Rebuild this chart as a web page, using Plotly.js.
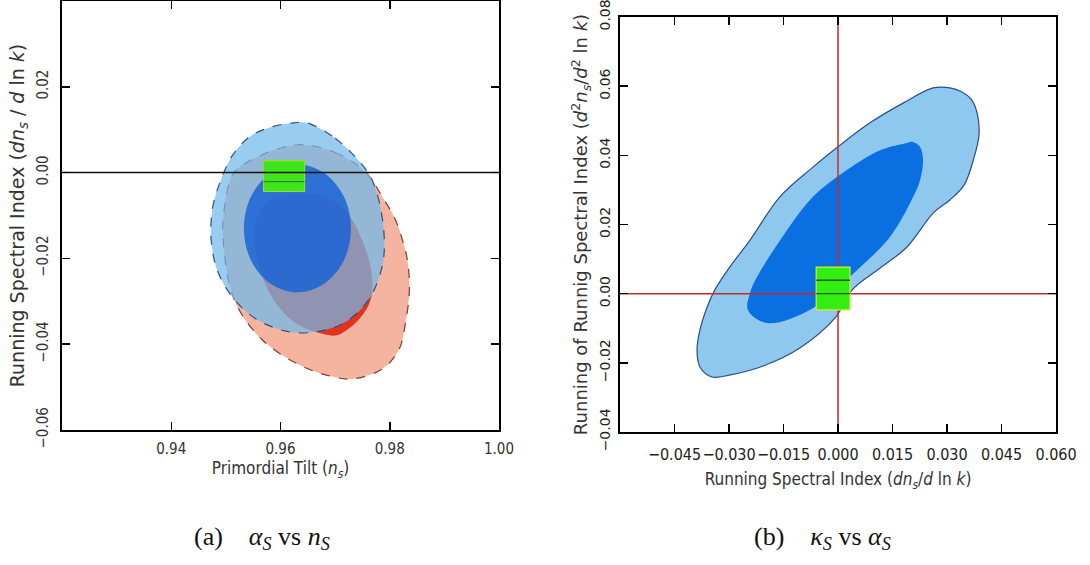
<!DOCTYPE html>
<html>
<head>
<meta charset="utf-8">
<script src="https://cdn.plot.ly/plotly-3.0.1.min.js"></script>
<style>html,body{margin:0;padding:0;background:#fff}#chart{width:1090px;height:565px}</style>
</head>
<body>
<div id="chart"></div>
<script>
// ---------- Panel (a): alpha_S vs n_S ----------
const leftRedOuterX = [0.9639,0.9700,0.9755,0.9786,0.9810,0.9823,0.9832,0.9836,0.9829,0.9817,0.9786,0.9731,0.9700,0.9639,0.9565,0.9515,0.9495,0.9497,0.9515,0.9559,0.9602];
const leftRedOuterY = [0.0065,0.0047,0.0002,-0.0056,-0.0109,-0.0156,-0.0202,-0.0272,-0.0349,-0.0412,-0.0458,-0.0481,-0.0477,-0.0451,-0.0388,-0.0295,-0.0156,-0.0086,0.0000,0.0037,0.0058];

const leftRedInnerX = [0.9583,0.9620,0.9657,0.9694,0.9725,0.9749,0.9764,0.9768,0.9762,0.9740,0.9703,0.9672,0.9630,0.9593,0.9565,0.9552,0.9561];
const leftRedInnerY = [-0.0063,-0.0049,-0.0049,-0.0063,-0.0098,-0.0156,-0.0214,-0.0272,-0.0307,-0.0347,-0.0379,-0.0374,-0.0353,-0.0307,-0.0237,-0.0156,-0.0091];

const leftBlueOuterX = [0.9648,0.9700,0.9740,0.9765,0.9781,0.9790,0.9786,0.9762,0.9718,0.9670,0.9620,0.9560,0.9515,0.9485,0.9473,0.9476,0.9490,0.9512,0.9545,0.9585,0.9618];
const leftBlueOuterY = [0.0116,0.0080,0.0032,-0.0010,-0.0070,-0.0156,-0.0219,-0.0295,-0.0349,-0.0370,-0.0372,-0.0345,-0.0295,-0.0230,-0.0156,-0.0080,-0.0020,0.0040,0.0085,0.0107,0.0115];

const leftBlueInnerX = [0.9631,0.9680,0.9716,0.9729,0.9716,0.9680,0.9631,0.9582,0.9546,0.9533,0.9546,0.9582];
const leftBlueInnerY = [0.0019,-0.0001,-0.0056,-0.0130,-0.0205,-0.0259,-0.0279,-0.0259,-0.0205,-0.0130,-0.0056,-0.0001];

const leftBoxX = [0.9569,0.9644];
const leftBoxY = [-0.0044,0.0028];
const leftBoxLinesY = [-0.0021];
const leftRefLineY = [0.0];

const leftXRange = [0.92,1.00];
const leftYRange = [-0.06,0.04];
const leftXTicks = [0.94,0.96,0.98,1.00];
const leftXTickText = ['0.94','0.96','0.98','1.00'];
const leftYTicks = [-0.06,-0.04,-0.02,0.00,0.02];
const leftYTickText = ['\u22120.06','\u22120.04','\u22120.02','0.00','0.02'];

// ---------- Panel (b): kappa_S vs alpha_S ----------
const rightOuterX = [0.0262,0.0308,0.0341,0.0366,0.0383,0.0388,0.0374,0.0347,0.0308,0.0262,0.0190,0.0116,0.0041,-0.0008,-0.0105,-0.0206,-0.0297,-0.0347,-0.0380,-0.0388,-0.0380,-0.0358,-0.0339,-0.0300,-0.0242,-0.0160,-0.0069,0.0006,0.0088,0.0179];
const rightOuterY = [0.0595,0.0595,0.0583,0.0563,0.0522,0.0459,0.0392,0.0314,0.0271,0.0233,0.0135,0.0074,0.0013,-0.0070,-0.0157,-0.0209,-0.0235,-0.0241,-0.0212,-0.0163,-0.0105,-0.0033,0.0011,0.0074,0.0155,0.0280,0.0366,0.0430,0.0494,0.0551];

const rightInnerX = [0.0204,0.0226,0.0234,0.0226,0.0207,0.0143,0.0052,-0.0069,-0.0195,-0.0248,-0.0242,-0.0223,-0.0140,-0.0069,0.0025,0.0116,0.0190];
const rightInnerY = [0.0439,0.0424,0.0386,0.0329,0.0280,0.0164,0.0068,-0.0042,-0.0085,-0.0047,0.0002,0.0048,0.0184,0.0280,0.0358,0.0415,0.0436];

const rightBoxX = [-0.0060,0.0033];
const rightBoxY = [-0.0047,0.0077];
const rightBoxLinesY = [0.0039,0.0000];
const rightRefX = [0.0];
const rightRefY = [0.0];

const rightXRange = [-0.06,0.06];
const rightYRange = [-0.04,0.08];
const rightXTicks = [-0.045,-0.030,-0.015,0.000,0.015,0.030,0.045,0.060];
const rightXTickText = ['\u22120.045','\u22120.030','\u22120.015','0.000','0.015','0.030','0.045','0.060'];
const rightYTicks = [-0.04,-0.02,0.00,0.02,0.04,0.06,0.08];
const rightYTickText = ['\u22120.04','\u22120.02','0.00','0.02','0.04','0.06','0.08'];

// ---------- helpers ----------
function closed(a){ return a.concat([a[0]]); }
function region(xs, ys, xa, ya, fill, lineColor, dash, width){
  return {type:'scatter', mode:'lines', x:closed(xs), y:closed(ys), xaxis:xa, yaxis:ya,
    fill:'toself', fillcolor:fill, hoverinfo:'skip',
    line:{color:lineColor, width:width, dash:dash, shape:'spline', smoothing:1}};
}
function box(bx, by, xa, ya, fill, edge){
  return {type:'scatter', mode:'lines', xaxis:xa, yaxis:ya, hoverinfo:'skip',
    x:[bx[0],bx[1],bx[1],bx[0],bx[0]], y:[by[0],by[0],by[1],by[1],by[0]],
    fill:'toself', fillcolor:fill, line:{color:edge, width:1.2}};
}
function hline(yv, xr, xa, ya, color, width){
  return {type:'scatter', mode:'lines', x:[xr[0],xr[1]], y:[yv,yv], xaxis:xa, yaxis:ya,
    hoverinfo:'skip', line:{color:color, width:width}};
}
function vline(xv, yr, xa, ya, color, width){
  return {type:'scatter', mode:'lines', x:[xv,xv], y:[yr[0],yr[1]], xaxis:xa, yaxis:ya,
    hoverinfo:'skip', line:{color:color, width:width}};
}

const traces = [
  region(leftRedOuterX, leftRedOuterY, 'x','y', '#f5b49f', '#8a3535', 'dash', 1.2),
  region(leftRedInnerX, leftRedInnerY, 'x','y', '#e2341c', 'rgba(0,0,0,0)', 'solid', 0),
  region(leftBlueOuterX, leftBlueOuterY, 'x','y', 'rgba(112,184,236,0.72)', '#34507a', 'dash', 1.2),
  region(leftBlueInnerX, leftBlueInnerY, 'x','y', 'rgba(22,98,214,0.82)', 'rgba(0,0,0,0)', 'solid', 0),
  box(leftBoxX, leftBoxY, 'x','y', '#3fe41a', '#9ad83a'),
  hline(leftBoxLinesY[0], leftBoxX, 'x','y', '#2a8a22', 1.2),
  hline(leftRefLineY[0], leftXRange, 'x','y', '#111111', 1.5),

  region(rightOuterX, rightOuterY, 'x2','y2', '#8ec8ef', '#2b4f80', 'solid', 1.2),
  region(rightInnerX, rightInnerY, 'x2','y2', '#0a6fe0', 'rgba(0,0,0,0)', 'solid', 0),
  vline(rightRefX[0], rightYRange, 'x2','y2', '#c8282c', 1.5),
  hline(rightRefY[0], rightXRange, 'x2','y2', '#c8282c', 1.5),
  box(rightBoxX, rightBoxY, 'x2','y2', '#33ee11', '#d8ea3c'),
  hline(rightBoxLinesY[0], rightBoxX, 'x2','y2', '#1d5a1d', 1.4),
  hline(rightBoxLinesY[1], rightBoxX, 'x2','y2', '#1d5a1d', 1.4)
];

const W = 1090, H = 565;
const axisCommon = {showgrid:false, zeroline:false, showline:true, linecolor:'#000', linewidth:2,
  mirror:'ticks', ticks:'inside', ticklen:8, tickwidth:1.5, tickcolor:'#000', tickmode:'array',
  fixedrange:true, ticklabeloverflow:'allow'};
const leftFont = {family:'DejaVu Sans Condensed, DejaVu Sans, sans-serif', size:15, color:'#333'};

const layout = {
  width:W, height:H, margin:{l:0,r:0,t:0,b:0},
  paper_bgcolor:'#ffffff', plot_bgcolor:'#ffffff', showlegend:false, hovermode:false,
  xaxis: Object.assign({}, axisCommon, {
    domain:[62/W, 499/W], range:leftXRange, tickvals:leftXTicks, ticktext:leftXTickText,
    tickfont:leftFont, tickangle:0, ticklabelstandoff:4, anchor:'y',
    title:{text:'Primordial Tilt (<i>n<sub>s</sub></i>)', font:{family:'DejaVu Sans Condensed, DejaVu Sans, sans-serif', size:17, color:'#333'}, standoff:5}
  }),
  yaxis: Object.assign({}, axisCommon, {
    domain:[1-430/H, 1-1/H], range:leftYRange, tickvals:leftYTicks, ticktext:leftYTickText,
    tickfont:leftFont, tickangle:-90, ticklabelstandoff:6, anchor:'x',
    title:{text:'Running Spectral Index (<i>dn<sub>s</sub></i> / <i>d</i> ln <i>k</i>)', font:{family:'DejaVu Sans, sans-serif', size:19, color:'#333'}, standoff:4}
  }),
  xaxis2: Object.assign({}, axisCommon, {
    domain:[620/W, 1056/W], range:rightXRange, tickvals:rightXTicks, ticktext:rightXTickText,
    tickfont:{family:'DejaVu Sans Condensed, DejaVu Sans, sans-serif', size:16, color:'#222'},
    tickangle:0, ticklabelstandoff:7, anchor:'y2',
    title:{text:'Running Spectral Index (<i>dn<sub>s</sub></i>/<i>d</i> ln <i>k</i>)', font:{family:'DejaVu Sans Condensed, DejaVu Sans, sans-serif', size:17, color:'#333'}, standoff:10}
  }),
  yaxis2: Object.assign({}, axisCommon, {
    domain:[1-432/H, 1-17/H], range:rightYRange, tickvals:rightYTicks, ticktext:rightYTickText,
    tickfont:{family:'DejaVu Sans, sans-serif', size:14, color:'#222'}, tickangle:-90, ticklabelstandoff:2, anchor:'x2',
    title:{text:'Running of Runnig Spectral Index (<i>d</i><sup>2</sup><i>n<sub>s</sub></i>/<i>d</i><sup>2</sup> ln <i>k</i>)', font:{family:'DejaVu Sans, sans-serif', size:18, color:'#333'}, standoff:5}
  }),
  annotations:[
    {xref:'paper', yref:'paper', x:262/W, y:1-538/H, xanchor:'center', yanchor:'middle', showarrow:false,
     text:'(a)&nbsp;&nbsp;&nbsp;&nbsp;<i>α<sub>S</sub></i> vs <i>n<sub>S</sub></i>', font:{family:'Liberation Serif, DejaVu Serif, serif', size:26, color:'#111'}},
    {xref:'paper', yref:'paper', x:822/W, y:1-538/H, xanchor:'center', yanchor:'middle', showarrow:false,
     text:'(b)&nbsp;&nbsp;&nbsp;&nbsp;<i>κ<sub>S</sub></i> vs <i>α<sub>S</sub></i>', font:{family:'Liberation Serif, DejaVu Serif, serif', size:26, color:'#111'}}
  ]
};

Plotly.newPlot('chart', traces, layout, {staticPlot:true, displayModeBar:false});
</script>
</body>
</html>
